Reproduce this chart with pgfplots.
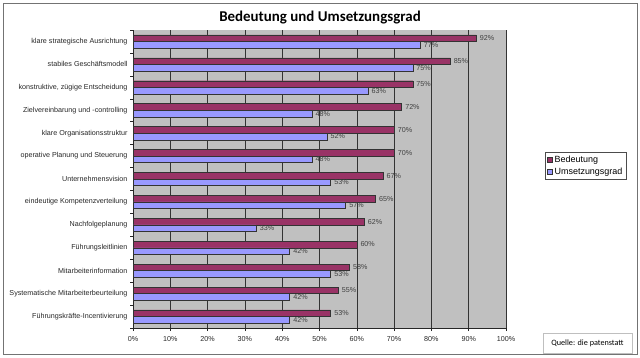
\documentclass[border=0pt]{standalone}
\usepackage{pgfplots}
\pgfplotsset{compat=1.18}
\usepackage{fontspec}
\setmainfont{Liberation Sans}
\newfontfamily\calib{Carlito}
\definecolor{bed}{HTML}{993366}
\definecolor{ums}{HTML}{9999FF}
\definecolor{plotbg}{HTML}{C0C0C0}
\begin{document}
\begin{tikzpicture}[x=1bp,y=1bp]
\path[use as bounding box] (0,0) rectangle (640,357);
\draw[black!55, line width=0.8bp] (3,3) rectangle (637,354);
\node[font=\calib\bfseries\fontsize{15}{17}\selectfont] at (320,339) {Bedeutung und Umsetzungsgrad};
\begin{axis}[
  at={(133bp,29bp)}, anchor=south west,
  scale only axis, width=373bp, height=298bp,
  xbar, bar width=6.6bp,
  xmin=0, xmax=100,
  ymin=-0.5, ymax=12.5, y dir=reverse,
  axis background/.style={fill=plotbg},
  axis x line*=bottom, axis y line*=left,
  axis line style={black!85, line width=0.6bp},
  xtick={0,10,...,100},
  xticklabels={0\%,10\%,20\%,30\%,40\%,50\%,60\%,70\%,80\%,90\%,100\%},
  xmajorgrids, grid style={black!80, line width=0.5bp},
  tick align=outside, major tick length=3bp,
  tick style={black!85, line width=0.5bp},
  ytick={-0.5,0.5,...,12.5},
  yticklabels={},
  extra y ticks={0,...,12},
  extra y tick labels={klare strategische Ausrichtung, stabiles Geschäftsmodell, {konstruktive, zügige Entscheidung}, Zielvereinbarung und -controlling, klare Organisationsstruktur, operative Planung und Steuerung, Unternehmensvision, eindeutige Kompetenzverteilung, Nachfolgeplanung, Führungsleitlinien, Mitarbeiterinformation, Systematische Mitarbeiterbeurteilung, Führungskräfte-Incentivierung},
  extra y tick style={major tick length=0pt, grid=none},
  ticklabel style={font=\fontsize{7.2}{8}\selectfont, text=black!85},
  y tick label style={xshift=-2bp},
  x tick label style={yshift=-2bp},
  /pgf/number format/assume math mode=true,
  nodes near coords={\pgfmathprintnumber{\pgfplotspointmeta}\%},
  nodes near coords style={font=\fontsize{7.2}{8}\selectfont, text=black!75, anchor=west, inner sep=1.5bp, xshift=2bp},
  legend style={at={(1.1046,0.5906)}, anchor=north west, draw=black!70, fill=white,
    font=\fontsize{9}{10}\selectfont, row sep=0bp, inner xsep=2bp, inner ysep=1.5bp, legend cell align=left},
  legend image code/.code={\draw[#1, draw=black!80, line width=0.4bp] (0bp,-2.5bp) rectangle (5bp,2.5bp);},
]
\addplot[fill=bed, draw=black!80, line width=0.4bp, bar shift=3.3bp] coordinates {
(92,0) (85,1) (75,2) (72,3) (70,4) (70,5) (67,6) (65,7) (62,8) (60,9) (58,10) (55,11) (53,12)};
\addplot[fill=ums, draw=black!80, line width=0.4bp, bar shift=-3.3bp] coordinates {
(77,0) (75,1) (63,2) (48,3) (52,4) (48,5) (53,6) (57,7) (33,8) (42,9) (53,10) (42,11) (42,12)};
\legend{Bedeutung, Umsetzungsgrad}
\end{axis}
\draw[black!25, line width=0.6bp] (543,4) rectangle (632,24);
\node[font=\calib\fontsize{8.2}{9}\selectfont] at (587.5,14) {Quelle: die patenstatt};
\end{tikzpicture}
\end{document}
